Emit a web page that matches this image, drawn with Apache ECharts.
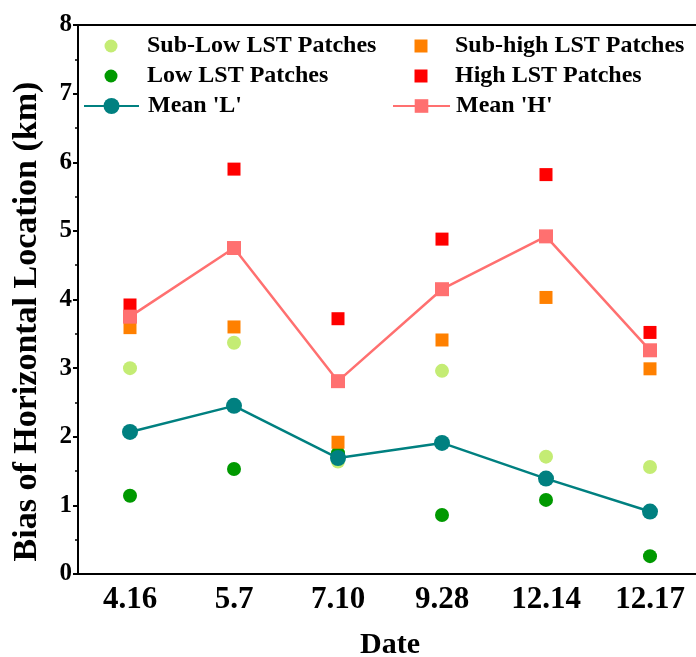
<!DOCTYPE html>
<html>
<head>
<meta charset="utf-8">
<script src="https://cdn.jsdelivr.net/npm/echarts@6/dist/echarts.min.js"></script>
<style>html,body{margin:0;padding:0;background:#fff;}#c{width:696px;height:657px;}</style>
</head>
<body>
<div id="c"></div>
<script>
var categories = ['4.16', '5.7', '7.10', '9.28', '12.14', '12.17'];
var subLow  = [3.00, 3.37, 1.64, 2.96, 1.71, 1.56];
var low     = [1.14, 1.53, 1.76, 0.86, 1.08, 0.26];
var meanL   = [2.07, 2.45, 1.69, 1.91, 1.39, 0.91];
var subHigh = [3.59, 3.60, 1.92, 3.41, 4.03, 2.99];
var high    = [3.92, 5.90, 3.72, 4.88, 5.82, 3.52];
var meanH   = [3.75, 4.75, 2.81, 4.15, 4.92, 3.26];
var yTicks  = [0, 1, 2, 3, 4, 5, 6, 7, 8];

var FONT = '"Liberation Serif", "Times New Roman", serif';
var chart = echarts.init(document.getElementById('c'), null, {renderer: 'canvas'});

function legendBase(left, top, itemWidth, itemHeight, names, padLeft) {
  return {
    orient: 'vertical', left: left, top: top, padding: 0,
    itemWidth: itemWidth, itemHeight: itemHeight, itemGap: 6,
    data: names,
    selectedMode: false,
    textStyle: {fontFamily: FONT, fontWeight: 'bold', fontSize: 24, lineHeight: 24, color: '#000', padding: [0, 0, 0, padLeft]}
  };
}

var option = {
  backgroundColor: '#fff',
  animation: false,
  grid: {left: 78, top: 25, width: 624, height: 549, containLabel: false, outerBoundsMode: 'none'},
  legend: [
    legendBase(104.5, 34, 13, 13, ['Sub-Low LST Patches', 'Low LST Patches'], 24.5),
    legendBase(83, 94, 55, 20, ["Mean 'L'"], 4),
    legendBase(414.5, 34, 13, 13, ['Sub-high LST Patches', 'High LST Patches'], 22.5),
    legendBase(392, 94, 57, 17, ["Mean 'H'"], 1)
  ],
  xAxis: [{
    type: 'category', data: categories, boundaryGap: true,
    name: 'Date', nameLocation: 'middle', nameGap: 56,
    nameTextStyle: {fontFamily: FONT, fontWeight: 'bold', fontSize: 30, color: '#000'},
    axisLine: {lineStyle: {color: '#000', width: 2}},
    axisTick: {alignWithLabel: true, length: 5, lineStyle: {color: '#000', width: 2}},
    axisLabel: {fontFamily: FONT, fontWeight: 'bold', fontSize: 31, color: '#000', margin: 10},
    splitLine: {show: false}
  }, {
    type: 'category', data: categories, position: 'top',
    axisLine: {show: true, lineStyle: {color: '#000', width: 2}},
    axisTick: {show: false}, axisLabel: {show: false}, splitLine: {show: false}
  }],
  yAxis: {
    type: 'value', min: yTicks[0], max: yTicks[yTicks.length - 1], interval: 1,
    name: 'Bias of Horizontal Location (km)', nameLocation: 'middle', nameGap: 34, nameRotate: 90,
    nameTextStyle: {fontFamily: FONT, fontWeight: 'bold', fontSize: 34, color: '#000', padding: [0, 44, 0, 0]},
    axisLine: {show: true, lineStyle: {color: '#000', width: 2}},
    axisTick: {show: true, length: 5, lineStyle: {color: '#000', width: 2}},
    minorTick: {show: true, splitNumber: 2, length: 3, lineStyle: {color: '#000', width: 1.5}},
    axisLabel: {fontFamily: FONT, fontWeight: 'bold', fontSize: 25, color: '#000', margin: 6},
    splitLine: {show: false}
  },
  series: [
    {name: 'Sub-Low LST Patches', type: 'scatter', data: subLow, symbol: 'circle', symbolSize: 14, itemStyle: {color: '#c4ec74', opacity: 1}},
    {name: 'Low LST Patches', type: 'scatter', data: low, symbol: 'circle', symbolSize: 14, itemStyle: {color: '#009900', opacity: 1}},
    {name: 'Sub-high LST Patches', type: 'scatter', data: subHigh, symbol: 'rect', symbolSize: 13, itemStyle: {color: '#ff8000', opacity: 1}},
    {name: 'High LST Patches', type: 'scatter', data: high, symbol: 'rect', symbolSize: 13, itemStyle: {color: '#ff0000', opacity: 1}},
    {name: "Mean 'L'", type: 'line', data: meanL, symbol: 'circle', symbolSize: 16, showAllSymbol: true,
     lineStyle: {color: '#008080', width: 2.5}, itemStyle: {color: '#008080', opacity: 1}},
    {name: "Mean 'H'", type: 'line', data: meanH, symbol: 'rect', symbolSize: 14, showAllSymbol: true,
     lineStyle: {color: '#ff7070', width: 2.5}, itemStyle: {color: '#ff7070', opacity: 1}}
  ]
};
chart.setOption(option);
</script>
</body>
</html>
